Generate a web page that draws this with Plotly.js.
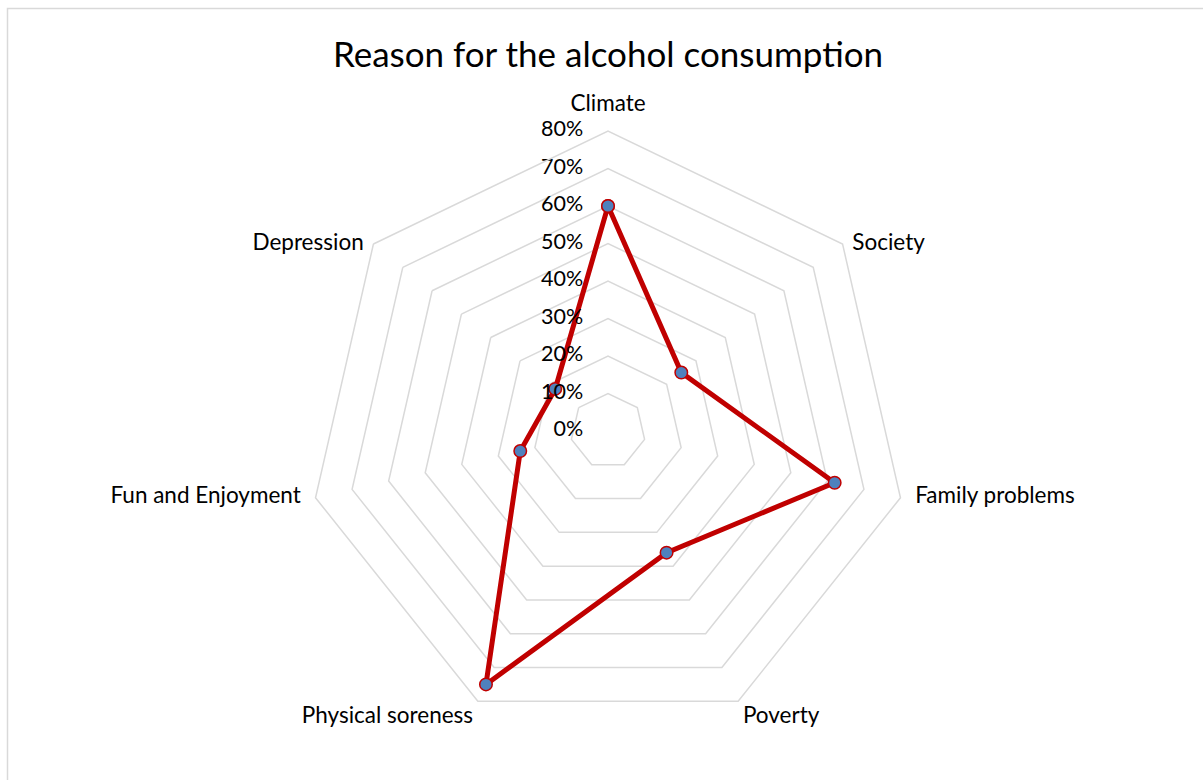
<!DOCTYPE html>
<html>
<head>
<meta charset="utf-8">
<script src="https://cdn.plot.ly/plotly-3.0.1.min.js"></script>
<style>
  html, body { margin: 0; padding: 0; background: #ffffff; }
  #chart { width: 1203px; height: 780px; }
</style>
</head>
<body>
<div id="chart"></div>
<script>
// ---- data ----
var categories = ["Climate", "Society", "Family problems", "Poverty", "Physical soreness", "Fun and Enjoyment", "Depression"];
var values = [0.60, 0.25, 0.62, 0.36, 0.75, 0.24, 0.18];
var radialTicks = [0, 0.1, 0.2, 0.3, 0.4, 0.5, 0.6, 0.7, 0.8];
var radialTickLabels = ["0%", "10%", "20%", "30%", "40%", "50%", "60%", "70%", "80%"];
var chartTitle = "Reason for the alcohol consumption";

// ---- styling ----
var W = 1203, H = 780;
var FONT = "Lato, 'Liberation Sans', sans-serif";
var R_MAX = 0.8;
// placement of each category label around its vertex (Excel-like)
var catLabelPos = ["top center", "middle right", "middle right", "bottom right", "bottom left", "middle left", "middle left"];
var catLabelGap = [22, 14, 22, 6, 6, 22, 14];   // invisible marker sizes -> text offset

// close the polygon
var thetaClosed = categories.concat([categories[0]]);
var rClosed = values.concat([values[0]]);

var series = {
  type: "scatterpolar",
  mode: "lines+markers",
  theta: thetaClosed,
  r: rClosed,
  line: { color: "#C00000", width: 5 },
  marker: { size: 12.5, color: "#4F81BD", line: { color: "#C00000", width: 1.5 } },
  hoverinfo: "skip",
  showlegend: false,
  cliponaxis: false
};

// radial tick labels along the Climate spoke
// (the exact centre point is culled by plotly's polygon test, so nudge it imperceptibly)
var tickText = {
  type: "scatterpolar",
  mode: "markers+text",
  theta: radialTicks.map(function () { return categories[0]; }),
  r: radialTicks.map(function (v) { return Math.max(v, 0.001); }),
  text: radialTickLabels,
  textposition: "middle left",
  textfont: { family: FONT, size: 21.5, color: "#000000" },
  marker: { size: 38, color: "rgba(0,0,0,0)" },
  hoverinfo: "skip",
  showlegend: false,
  cliponaxis: false
};

// category labels at the outer vertices
var catText = {
  type: "scatterpolar",
  mode: "markers+text",
  theta: categories,
  r: categories.map(function () { return R_MAX; }),
  text: categories,
  textposition: catLabelPos,
  textfont: { family: FONT, size: 22.5, color: "#000000" },
  marker: { size: catLabelGap, color: "rgba(0,0,0,0)" },
  hoverinfo: "skip",
  showlegend: false,
  cliponaxis: false
};

var layout = {
  width: W, height: H,
  margin: { l: 0, r: 0, t: 0, b: 0 },
  paper_bgcolor: "#ffffff",
  plot_bgcolor: "#ffffff",
  font: { family: FONT, color: "#000000" },
  title: {
    text: chartTitle,
    font: { family: FONT, size: 35, color: "#000000" },
    x: 608 / W, xref: "container", xanchor: "center",
    y: 1 - 55 / H, yref: "container", yanchor: "middle"
  },
  showlegend: false,
  polar: {
    domain: { x: [308 / W, 908 / W], y: [1 - 731 / H, 1 - 131 / H] },
    gridshape: "linear",
    bgcolor: "rgba(0,0,0,0)",
    radialaxis: {
      range: [0, R_MAX],
      tickvals: radialTicks,
      showticklabels: false,
      ticks: "",
      showline: false,
      showgrid: true,
      gridcolor: "#D9D9D9",
      gridwidth: 1.5,
      angle: 90
    },
    angularaxis: {
      type: "category",
      categoryarray: categories,
      rotation: 90,
      direction: "clockwise",
      showgrid: false,
      showline: true,
      linecolor: "#D9D9D9",
      linewidth: 1.5,
      ticks: "",
      showticklabels: false
    }
  },
  shapes: [{
    type: "rect", xref: "paper", yref: "paper",
    x0: 7.5 / W, x1: 1.05, y0: -0.05, y1: 1 - 8.5 / H,
    line: { color: "#D9D9D9", width: 1.5 }, fillcolor: "rgba(0,0,0,0)", layer: "below"
  }]
};

Plotly.newPlot("chart", [series, tickText, catText], layout, { displayModeBar: false, staticPlot: true });
</script>
</body>
</html>
